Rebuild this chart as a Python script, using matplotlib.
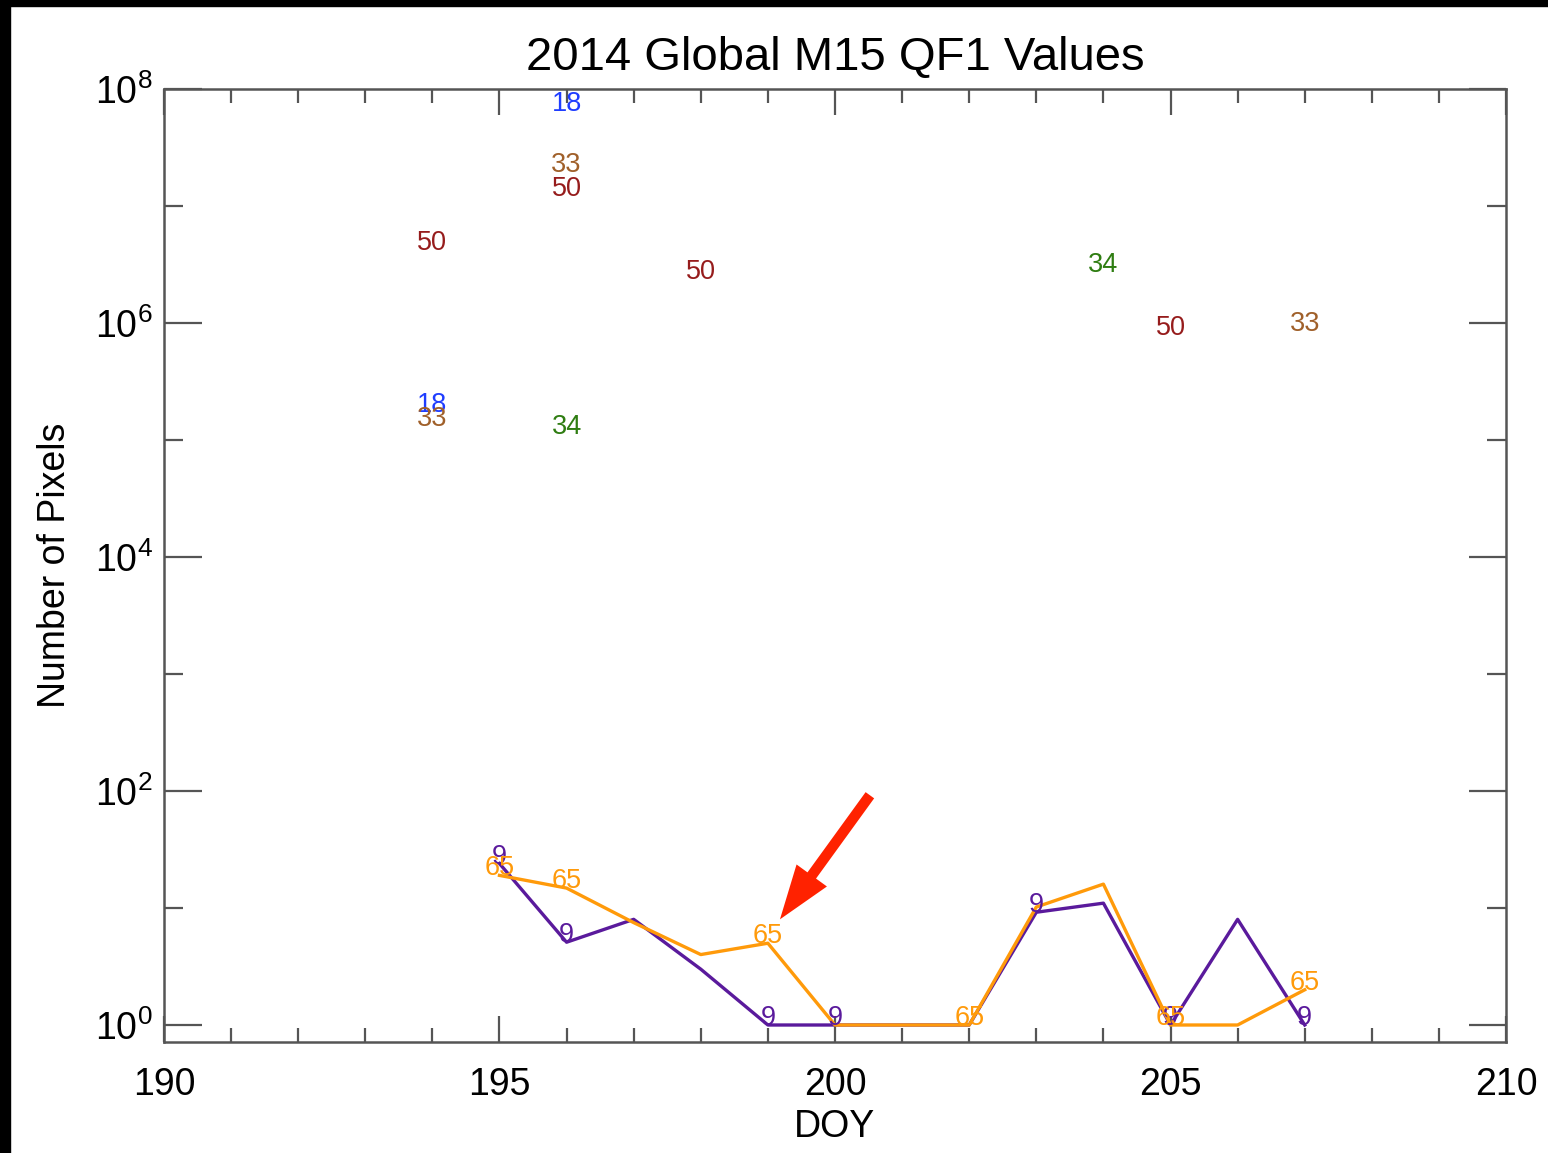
import matplotlib
matplotlib.use("Agg")
import matplotlib.pyplot as plt
import matplotlib.patches as mpatches
from matplotlib.ticker import FixedLocator, FuncFormatter
import numpy as np

plt.rcParams['font.family'] = ['Liberation Sans', 'DejaVu Sans']
plt.rcParams['mathtext.fontset'] = 'custom'
plt.rcParams['mathtext.rm'] = 'Liberation Sans'
plt.rcParams['mathtext.it'] = 'Liberation Sans'

# QF1 value 9 (purple line) and 65 (orange line), per DOY
doy_line = [195, 196, 197, 198, 199, 200, 201, 202, 203, 204, 205, 206, 207]
qf9 = [24, 5.1, 8.0, 3.0, 1, 1, 1, 1, 9.2, 11, 1, 8, 1]
qf65 = [19, 14.8, 7.5, 4.0, 5.0, 1, 1, 1, 10.2, 16, 1, 1, 2]
# days where the value label is written on the line
lab9_doy = [195, 196, 199, 200, 203, 205, 207]
lab65_doy = [195, 196, 199, 202, 205, 207]

# isolated values drawn as text only
pts_18_doy = [194, 196]
pts_18_val = [1.75e5, 6.5e7]
pts_33_doy = [194, 196, 207]
pts_33_val = [1.32e5, 1.95e7, 8.6e5]
pts_50_doy = [194, 196, 198, 205]
pts_50_val = [4.2e6, 1.22e7, 2.4e6, 7.9e5]
pts_34_doy = [196, 204]
pts_34_val = [1.12e5, 2.75e6]

c9 = '#5a1a9c'
c65 = '#ff9a0a'
c18 = '#1f3dff'
c33 = '#a0602a'
c50 = '#961c1c'
c34 = '#2f7d12'

fig = plt.figure(figsize=(15.48, 11.53), dpi=100)
ax = fig.add_axes([0.1059, 0.0963, 0.867, 0.8265])

ax.set_yscale('log')
ax.set_xlim(190, 210)
ax.set_ylim(10**-0.145, 1e8)

ax.plot(doy_line, qf9, color=c9, lw=2.4, zorder=3)
ax.plot(doy_line, qf65, color=c65, lw=2.4, zorder=4)

fs_pt = 19.5
for d in lab9_doy:
    ax.text(d, qf9[doy_line.index(d)], '9', color=c9, fontsize=fs_pt,
            ha='center', va='baseline', zorder=5)
for d in lab65_doy:
    ax.text(d, qf65[doy_line.index(d)], '65', color=c65, fontsize=fs_pt,
            ha='center', va='baseline', zorder=5)

for lbl, xs, ys, col in [('18', pts_18_doy, pts_18_val, c18),
                         ('33', pts_33_doy, pts_33_val, c33),
                         ('50', pts_50_doy, pts_50_val, c50),
                         ('34', pts_34_doy, pts_34_val, c34)]:
    for x, y in zip(xs, ys):
        ax.text(x, y, lbl, color=col, fontsize=fs_pt, ha='center',
                va='baseline', zorder=5)

# red arrow pointing at the 65 label on DOY 199
ax.annotate('', xy=(199.18, 8.0), xytext=(200.52, 92),
            arrowprops=dict(arrowstyle='simple,head_length=1.95,head_width=1.35,tail_width=0.38',
                            mutation_scale=20, color='#ff2200', lw=0,
                            shrinkA=0, shrinkB=0), zorder=6)

# axes styling (IDL look)
for sp in ax.spines.values():
    sp.set_color('#555555')
    sp.set_linewidth(1.8)

ax.xaxis.set_major_locator(FixedLocator([190, 195, 200, 205, 210]))
ax.xaxis.set_minor_locator(FixedLocator(np.arange(190, 211, 1)))
ax.yaxis.set_major_locator(FixedLocator([1e0, 1e2, 1e4, 1e6, 1e8]))
ax.yaxis.set_minor_locator(FixedLocator([1e1, 1e3, 1e5, 1e7]))
ax.yaxis.set_major_formatter(FuncFormatter(lambda v, p: r'$10^{%d}$' % round(np.log10(v))))
ax.yaxis.set_minor_formatter(FuncFormatter(lambda v, p: ''))

ax.tick_params(which='both', direction='in', top=True, right=True,
               color='#555555', width=1.6, labelsize=27)
ax.tick_params(axis='x', which='major', length=19, pad=18)
ax.tick_params(axis='x', which='minor', length=10)
ax.tick_params(axis='y', which='major', length=27, pad=8)
ax.tick_params(axis='y', which='minor', length=14)

ax.set_title('2014 Global M15 QF1 Values', fontsize=34, pad=14)
ax.set_xlabel('DOY', fontsize=27, labelpad=4)
ax.set_ylabel('Number of Pixels', fontsize=27, labelpad=16)

# black frame strips at the top and left edges of the screenshot
fig.patches.append(mpatches.Rectangle((0, 1 - 6 / 1153), 1, 6 / 1153,
                                      transform=fig.transFigure, color='black'))
fig.patches.append(mpatches.Rectangle((0, 0), 10 / 1548, 1,
                                      transform=fig.transFigure, color='black'))

fig.savefig('out.png', dpi=100)
